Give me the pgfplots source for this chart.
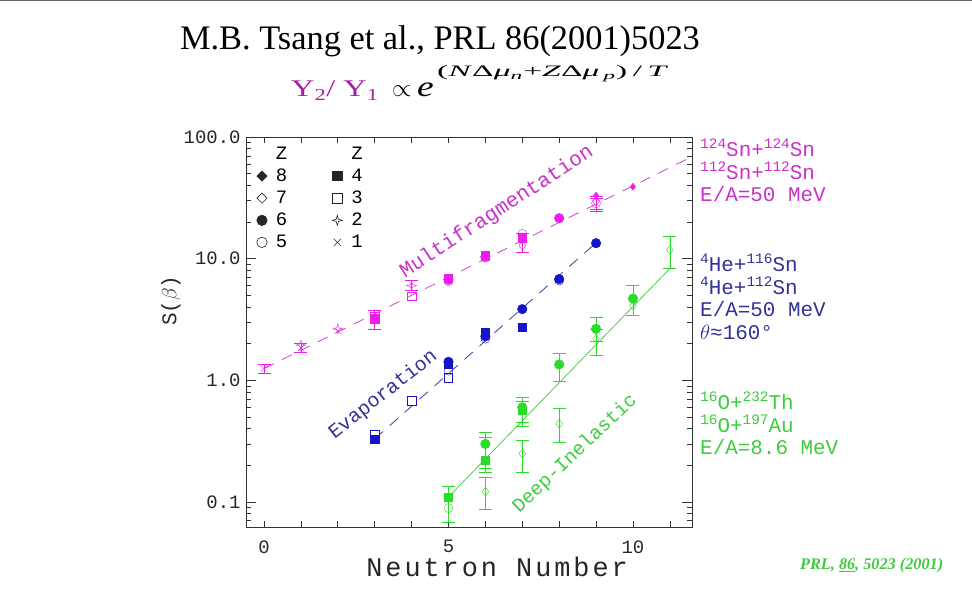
\documentclass[border=0pt]{standalone}
\usepackage{fontspec}
\usepackage{graphicx}
\usepackage{pgfplots}
\pgfplotsset{compat=1.18}
\setmainfont{Liberation Serif}
\newfontfamily\plotfont{Liberation Mono}
\newfontfamily\plotfontsp[LetterSpace=11]{Liberation Mono}
\definecolor{mag}{RGB}{235,30,235}
\definecolor{maglin}{RGB}{205,70,205}
\definecolor{magtext}{RGB}{200,50,200}
\definecolor{bpts}{RGB}{20,20,200}
\definecolor{bline}{RGB}{60,60,160}
\definecolor{btext}{RGB}{50,50,150}
\definecolor{gpts}{RGB}{40,220,40}
\definecolor{gline}{RGB}{80,205,80}
\definecolor{gtext}{RGB}{60,205,60}
\definecolor{purp}{RGB}{165,30,165}
\pgfdeclareplotmark{sparkle}{%
  \pgfpathmoveto{\pgfqpoint{0pt}{\pgfplotmarksize}}%
  \pgfpathlineto{\pgfqpoint{0.22\pgfplotmarksize}{0.22\pgfplotmarksize}}%
  \pgfpathlineto{\pgfqpoint{\pgfplotmarksize}{0pt}}%
  \pgfpathlineto{\pgfqpoint{0.22\pgfplotmarksize}{-0.22\pgfplotmarksize}}%
  \pgfpathlineto{\pgfqpoint{0pt}{-\pgfplotmarksize}}%
  \pgfpathlineto{\pgfqpoint{-0.22\pgfplotmarksize}{-0.22\pgfplotmarksize}}%
  \pgfpathlineto{\pgfqpoint{-\pgfplotmarksize}{0pt}}%
  \pgfpathlineto{\pgfqpoint{-0.22\pgfplotmarksize}{0.22\pgfplotmarksize}}%
  \pgfpathclose\pgfusepathqstroke}
\newcommand\up[1]{\raisebox{0.40em}{\fontsize{14.5}{14.5}\selectfont #1}}
\tikzset{
  zf8/.style={mark=diamond*, mark size=4.5bp},
  zf7/.style={mark=diamond, mark size=4.5bp},
  zf6/.style={mark=*, mark size=4.8bp},
  zf5/.style={mark=o, mark size=4.5bp},
  zf4/.style={mark=square*, mark size=4.2bp},
  zf3/.style={mark=square, mark size=4.2bp},
  zf2/.style={mark=sparkle, mark size=5bp},
  zf1/.style={mark=x, mark size=4.5bp},
}
\newcommand\lgimg[1]{\addlegendimage{legend image code/.code={\path[draw=none,fill=none] (-7bp,-6bp) rectangle (12bp,6bp); \draw[black!85, line width=0.6bp, #1] plot coordinates {(0bp,0bp)};}}}
\pgfplotsset{
  errp/.style={only marks, error bars/.cd, y dir=both, y explicit,
     error mark options={rotate=90, mark size=6.5bp, line width=0.7bp},
     error bar style={line width=0.7bp}},
}
\begin{document}
\begin{tikzpicture}
\useasboundingbox (0bp,0bp) rectangle (972bp,607bp);
\draw[black!60, line width=0.8bp] (0bp,606.4bp) -- (972bp,606.4bp);
% title
\node[font=\fontsize{34.5}{34.5}\selectfont, anchor=center] at (440bp,566bp) {M.B. Tsang et al., PRL 86(2001)5023};
\node[anchor=base west, inner sep=0pt, purp, font=\fontsize{24}{24}\selectfont] at (291bp,510bp) {\scalebox{1.35}[1]{Y\textsubscript{2}/ Y\textsubscript{1}}};
\node[anchor=base west, inner sep=0pt, font=\fontsize{25}{25}\selectfont] at (392bp,510bp) {$\propto$};
\node[anchor=base west, inner sep=0pt, font=\fontsize{29}{29}\selectfont] at (417bp,510bp) {\scalebox{1.3}[1]{\textit{e}}};
\node[anchor=base west, inner sep=0pt, font=\fontsize{16}{16}\selectfont] at (437bp,530bp) {\scalebox{2.1}[1]{(\textit{N}Δ\textit{μ}\textsubscript{\textit{n}}+\textit{Z}Δ\textit{μ}\textsubscript{\,\textit{p}})\,/\,\textit{T}}};
\begin{axis}[
  at={(246bp,80bp)}, anchor=south west, scale only axis, width=446bp, height=390bp,
  ymode=log, xmin=-0.488, xmax=11.6, ymin=0.0623, ymax=100,
  xtick={0,...,11}, xticklabels={0,,,,,5,,,,,10,},
  ytick={0.1,1,10,100}, yticklabels={0.1,1.0,10.0,100.0},
  minor ytick={0.07,0.08,0.09,0.2,0.3,0.4,0.5,0.6,0.7,0.8,0.9,2,3,4,5,6,7,8,9,20,30,40,50,60,70,80,90},
  tick align=inside, major tick length=10bp, minor tick length=5bp,
  xtick style={/pgfplots/major tick length=6bp},
  axis line style={black!80, line width=0.8bp},
  every tick/.style={black!80, line width=0.7bp},
  ticklabel style={font=\plotfont\fontsize{19}{19}\selectfont, black!85},
  xticklabel style={yshift=-10bp},
  yticklabel style={xshift=-2bp},
  xlabel={Neutron Number}, ylabel={S($\beta$)},
  xlabel style={font=\plotfontsp\fontsize{27}{27}\selectfont, black!85, at={(axis description cs:0.563,0)}, anchor=north, yshift=-26bp},
  ylabel style={font=\plotfont\fontsize{21}{21}\selectfont, black!85, at={(axis description cs:0,0.58)}, anchor=center, yshift=75bp},
  clip=false,
  legend columns=2,
  legend style={at={(axis description cs:0.013,0.985)}, anchor=north west, draw=none, fill=none,
     font=\plotfont\fontsize{19}{19}\selectfont, row sep=4bp,
     /tikz/every even column/.append style={column sep=41bp}},
  legend cell align=left,
]
\addlegendimage{empty legend}\addlegendentry{Z}
\addlegendimage{empty legend}\addlegendentry{Z}
\lgimg{mark=square*, mark options={rotate=45}, mark size=3.6bp}\addlegendentry{8}
\lgimg{mark=square*, mark size=4.6bp}\addlegendentry{4}
\lgimg{mark=square, mark options={rotate=45}, mark size=3.6bp}\addlegendentry{7}
\lgimg{mark=square, mark size=4.6bp}\addlegendentry{3}
\lgimg{mark=*, mark size=5.2bp}\addlegendentry{6}
\lgimg{mark=sparkle, mark size=5bp}\addlegendentry{2}
\lgimg{mark=o, mark size=5.2bp}\addlegendentry{5}
\lgimg{mark=x, mark size=5.2bp}\addlegendentry{1}
% fit lines
\addplot[maglin, line width=0.8bp, dash pattern=on 11bp off 9bp] coordinates {(0,1.25) (11.6,69)};
\addplot[bline, line width=0.8bp, dash pattern=on 11bp off 9bp] coordinates {(3,0.33) (9,13.5)};
\addplot[gline, line width=0.8bp] coordinates {(5,0.11) (11,8.3)};
% magenta: multifragmentation
\addplot[mag, zf1, errp] table[x=x,y=y,y error plus=ep,y error minus=em]{
x y ep em
0 1.25 0.1 0.1
1 1.85 0.15 0.15
};
\addplot[mag, zf1, only marks] coordinates {(2,2.55)};
\addplot[mag, zf2, errp] table[x=x,y=y,y error plus=ep,y error minus=em]{
x y ep em
4 6.0 0.6 0.5
};
\addplot[mag, zf2, only marks] coordinates {(1,1.95) (2,2.65)};
\addplot[mag, zf3, only marks] coordinates {(3,3.35) (4,4.9)};
\addplot[mag, zf4, errp] table[x=x,y=y,y error plus=ep,y error minus=em]{
x y ep em
3 3.2 0.55 0.6
};
\addplot[mag, zf4, only marks] coordinates {(5,6.9) (6,10.6) (7,14.8)};
\addplot[mag, zf5, errp] table[x=x,y=y,y error plus=ep,y error minus=em]{
x y ep em
9 28.5 4 4
};
\addplot[mag, zf5, only marks] coordinates {(5,6.5) (6,10.2) (7,16.0)};
\addplot[mag, zf6, only marks] coordinates {(5,6.7) (6,10.4) (8,21.5)};
\addplot[mag, zf7, errp] table[x=x,y=y,y error plus=ep,y error minus=em]{
x y ep em
7 12.8 3.2 1.5
9 29.5 2 4.2
};
\addplot[mag, zf8, mark size=3.5bp, only marks] coordinates {(9,33) (10,39)};
% blue: evaporation
\addplot[bpts, zf3, only marks] coordinates {(3,0.36) (4,0.68) (5,1.05)};
\addplot[bpts, zf4, only marks] coordinates {(3,0.33) (5,1.35) (6,2.5) (7,2.72)};
\addplot[bpts, zf5, only marks] coordinates {(5,1.2) (6,2.2) (8,6.6)};
\addplot[bpts, zf6, only marks] coordinates {(5,1.42) (6,2.3) (7,3.85) (8,6.8) (9,13.4)};
% green: deep-inelastic
\addplot[gpts, zf7, errp] table[x=x,y=y,y error plus=ep,y error minus=em]{
x y ep em
6 0.122 0.038 0.035
7 0.25 0.07 0.075
8 0.44 0.15 0.13
9 2.2 0.4 0.6
10 4.1 1.9 0.68
11 11.8 3.4 3.5
};
\addplot[gpts, zf5, errp] table[x=x,y=y,y error plus=ep,y error minus=em]{
x y ep em
5 0.089 0.045 0.021
};
\addplot[gpts, zf6, errp] table[x=x,y=y,y error plus=ep,y error minus=em]{
x y ep em
6 0.30 0.073 0.11
7 0.60 0.125 0.15
8 1.35 0.32 0.37
9 2.65 0.65 0.55
};
\addplot[gpts, zf6, only marks] coordinates {(10,4.7)};
\addplot[gpts, zf4, errp] table[x=x,y=y,y error plus=ep,y error minus=em]{
x y ep em
6 0.22 0.12 0.045
7 0.57 0.10 0.15
};
\addplot[gpts, zf4, only marks] coordinates {(5,0.11)};
% curve labels
\node[magtext, rotate=33, font=\plotfont\fontsize{21}{21}\selectfont] at (axis cs:6.31,24.2) {Multifragmentation};
\node[btext, rotate=38, font=\plotfont\fontsize{20}{20}\selectfont] at (axis cs:3.23,0.76) {Evaporation};
\node[gtext, rotate=43.5, font=\plotfont\fontsize{19.5}{19.5}\selectfont] at (axis cs:8.43,0.248) {Deep-Inelastic};
\end{axis}
% right annotations
\begin{scope}[every node/.style={anchor=west, inner sep=0pt, font=\plotfont\fontsize{21}{21}\selectfont}]
\node[magtext] at (700bp,459bp) {\up{124}Sn+\up{124}Sn};
\node[magtext] at (700bp,436bp) {\up{112}Sn+\up{112}Sn};
\node[magtext] at (700bp,413bp) {E/A=50 MeV};
\node[btext] at (700bp,344bp) {\up{4}He+\up{116}Sn};
\node[btext] at (700bp,321bp) {\up{4}He+\up{112}Sn};
\node[btext] at (700bp,298bp) {E/A=50 MeV};
\node[btext] at (700bp,275bp) {$\theta$≈160°};
\node[gtext] at (700bp,206bp) {\up{16}O+\up{232}Th};
\node[gtext] at (700bp,183bp) {\up{16}O+\up{197}Au};
\node[gtext] at (700bp,160bp) {E/A=8.6 MeV};
\end{scope}
\node[gtext, anchor=west, inner sep=0pt, font=\bfseries\itshape\fontsize{16.3}{16.3}\selectfont] at (800bp,41bp) {PRL, \underline{86}, 5023 (2001)};
\end{tikzpicture}
\end{document}
